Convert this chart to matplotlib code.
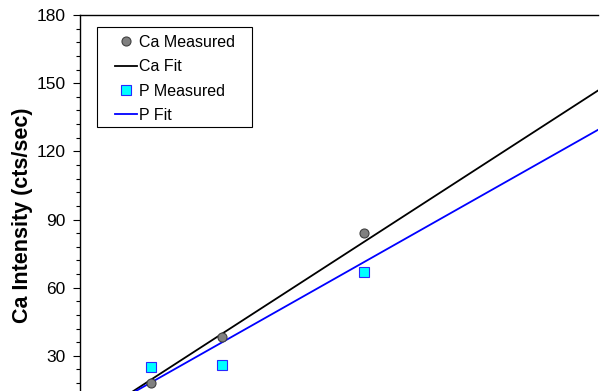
import matplotlib
matplotlib.use("Agg")
import matplotlib.pyplot as plt
from matplotlib.patches import Rectangle
from matplotlib.ticker import MultipleLocator

plt.rcParams['font.family'] = ['Liberation Sans', 'DejaVu Sans']

# measured points (x in arbitrary units, y in cts/sec)
conc = [1, 2, 4]
ca_measured = [18.2, 38.2, 84.1]
p_measured = [25.1, 26.0, 67.0]

# fit lines, read at both ends
fit_x = [0, 7.5]
ca_fit = [-0.7, 150.8]
p_fit = [0.6, 133.0]

yticks = [30, 60, 90, 120, 150, 180]

fig = plt.figure(figsize=(6, 3.91), dpi=100)
ax = fig.add_axes([80/600, 1 - 424/391, 518/600, (424 - 15)/391])

ax.plot(fit_x, ca_fit, color='black', lw=1.3, label='Ca Fit', zorder=2)
ax.plot(fit_x, p_fit, color='#0000ff', lw=1.3, label='P Fit', zorder=2)
ax.plot(conc, ca_measured, 'o', ms=6.5, mfc='#808080', mec='#404040', mew=0.8,
        label='Ca Measured', zorder=3)
ax.plot(conc, p_measured, 's', ms=6.5, mfc='#00ffff', mec='#2828ff', mew=0.8,
        label='P Measured', zorder=3)

ax.set_xlim(0, 7.3)
ax.set_ylim(0, 180)
ax.set_yticks(yticks)
ax.yaxis.set_minor_locator(MultipleLocator(6))
ax.tick_params(axis='y', which='major', length=5, width=0.8, labelsize=12.5, pad=5.5)
ax.tick_params(axis='y', which='minor', length=3, width=0.8)
ax.set_xticks([])
ax.spines['right'].set_visible(False)
ax.spines['bottom'].set_visible(False)
ax.spines['top'].set_linewidth(1)
ax.spines['left'].set_linewidth(1)

ax.set_ylabel('Ca Intensity (cts/sec)', fontsize=15.5, fontweight='bold')
ax.yaxis.set_label_coords(-0.09, 0.51)

h, l = ax.get_legend_handles_labels()
order = [2, 0, 3, 1]
ax.legend([h[i] for i in order], [l[i] for i in order], loc='upper left',
          bbox_to_anchor=((115 - 80)/518, 1 - (35 - 15)/409), frameon=False,
          borderpad=0, borderaxespad=0, fontsize=11.5, handlelength=1.4,
          handletextpad=0.12, labelspacing=0.58)
ax.add_patch(Rectangle(((97 - 80)/518, 1 - (127 - 15)/409), (252 - 97)/518, 100/409,
                       transform=ax.transAxes, fill=False, ec='black', lw=0.8,
                       zorder=5))

fig.savefig('out.png', dpi=100)
